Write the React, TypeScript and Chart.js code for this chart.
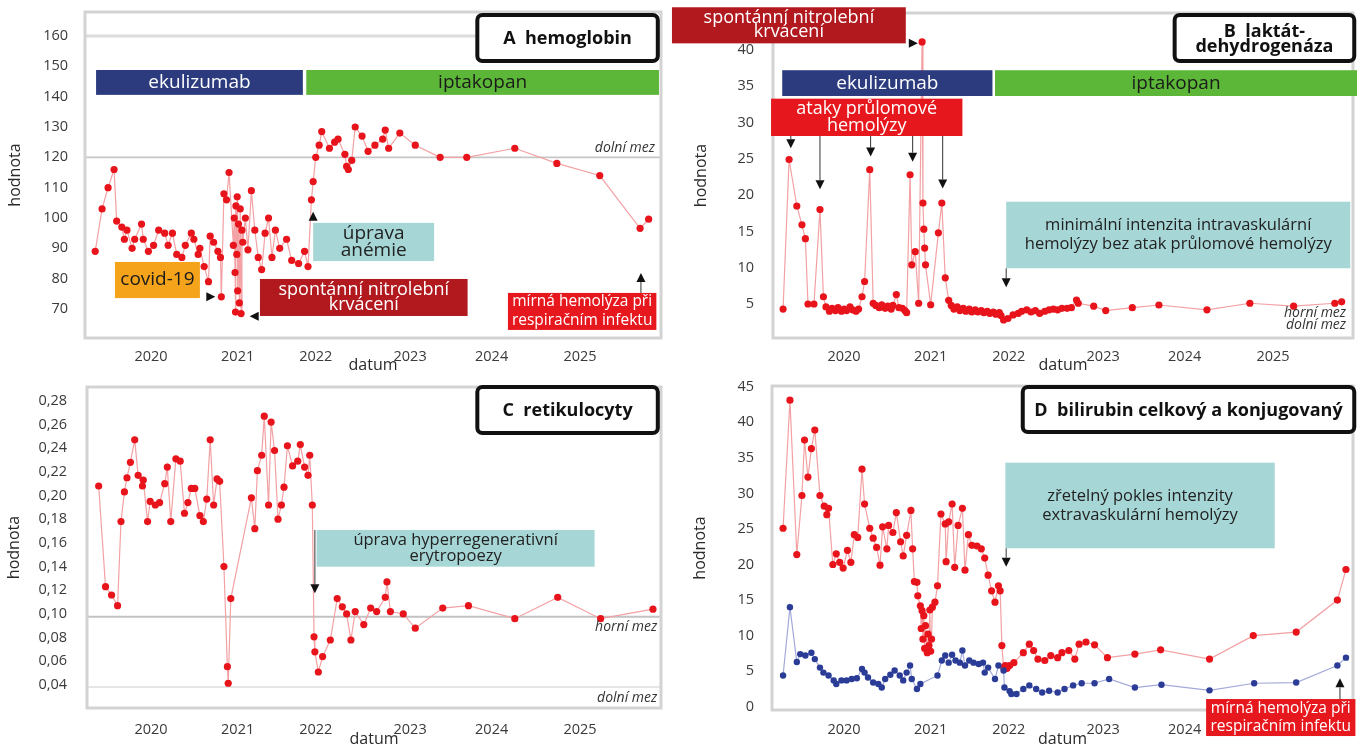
import { useEffect, useRef } from "react";
import { Chart, registerables } from "chart.js";

Chart.register(...registerables);

const FONT = "'Open Sans', 'DejaVu Sans', sans-serif";

// ---------- axis ticks ----------
const X_TICK_VALUES = [2020, 2021.01, 2021.92, 2023.02, 2023.97, 2025.0];
const X_TICK_LABELS = ["2020", "2021", "2022", "2023", "2024", "2025"];
const HB_TICKS = [70, 80, 90, 100, 110, 120, 130, 140, 150, 160];
const LDH_TICKS = [5, 10, 15, 20, 25, 30, 35, 40];
const RET_TICKS = [0.04, 0.06, 0.08, 0.1, 0.12, 0.14, 0.16, 0.18, 0.2, 0.22, 0.24, 0.26, 0.28];
const BIL_TICKS = [0, 5, 10, 15, 20, 25, 30, 35, 40, 45];

// ---------- series: [date (decimal year), value] ----------
const HEMOGLOBIN: [number, number][] = [
  [2019.35, 89], [2019.43, 103], [2019.5, 110], [2019.57, 116], [2019.6, 99], [2019.66, 97],
  [2019.69, 93], [2019.72, 96], [2019.78, 90], [2019.81, 93], [2019.89, 98], [2019.91, 93],
  [2019.97, 89], [2020.03, 91], [2020.09, 96], [2020.16, 95], [2020.2, 91], [2020.25, 95],
  [2020.3, 88], [2020.36, 87], [2020.4, 91], [2020.47, 95], [2020.5, 93], [2020.55, 88],
  [2020.57, 90], [2020.62, 84], [2020.67, 79], [2020.69, 94], [2020.73, 92], [2020.78, 89],
  [2020.81, 87], [2020.82, 74], [2020.85, 108], [2020.88, 106], [2020.91, 115], [2020.96, 91],
  [2020.97, 100], [2020.98, 82], [2020.985, 69], [2020.99, 104], [2021.0, 88], [2021.005, 107],
  [2021.01, 76], [2021.02, 98], [2021.03, 72], [2021.04, 103], [2021.05, 68.5], [2021.06, 96],
  [2021.07, 92], [2021.1, 100], [2021.13, 89.5], [2021.17, 109], [2021.21, 96], [2021.25, 87],
  [2021.29, 83], [2021.33, 95], [2021.37, 100], [2021.41, 87], [2021.45, 96], [2021.5, 90],
  [2021.58, 93], [2021.64, 86], [2021.72, 85], [2021.79, 89], [2021.83, 84], [2021.87, 106],
  [2021.89, 112], [2021.92, 120], [2021.96, 124], [2021.99, 128.5], [2022.08, 123], [2022.14, 125],
  [2022.18, 126], [2022.26, 121], [2022.28, 117], [2022.3, 116], [2022.34, 119], [2022.38, 130],
  [2022.46, 127], [2022.53, 122], [2022.61, 124], [2022.7, 126], [2022.73, 129], [2022.77, 123],
  [2022.9, 128], [2023.08, 124], [2023.37, 120], [2023.68, 120], [2024.24, 123], [2024.73, 118],
  [2025.23, 114], [2025.7, 96.6], [2025.8, 99.6],
];

const LDH: [number, number][] = [
  [2019.29, 4.3], [2019.36, 24.9], [2019.45, 18.5], [2019.51, 15.9], [2019.55, 14.0], [2019.58, 5.0],
  [2019.65, 5.0], [2019.72, 18.0], [2019.76, 6.0], [2019.79, 4.6], [2019.83, 4.0], [2019.86, 4.4],
  [2019.9, 4.1], [2019.93, 4.5], [2019.97, 4.0], [2020.0, 4.3], [2020.03, 4.1], [2020.07, 4.6],
  [2020.1, 4.2], [2020.14, 4.0], [2020.17, 4.3], [2020.21, 6.0], [2020.24, 8.1], [2020.3, 23.5],
  [2020.34, 5.1], [2020.37, 4.8], [2020.41, 4.5], [2020.44, 4.9], [2020.48, 4.4], [2020.51, 4.7],
  [2020.55, 4.3], [2020.57, 4.8], [2020.61, 6.3], [2020.64, 4.5], [2020.68, 4.4], [2020.71, 4.1],
  [2020.73, 3.8], [2020.77, 22.8], [2020.79, 10.4], [2020.83, 12.2], [2020.87, 5.1], [2020.91, 41.1],
  [2020.92, 18.9], [2020.93, 15.3], [2020.94, 12.7], [2020.95, 10.4], [2021.01, 4.9], [2021.1, 14.8],
  [2021.14, 18.9], [2021.18, 8.6], [2021.22, 5.5], [2021.25, 4.8], [2021.28, 4.3], [2021.32, 4.6],
  [2021.35, 4.1], [2021.39, 4.4], [2021.42, 4.0], [2021.46, 4.3], [2021.49, 3.9], [2021.53, 4.2],
  [2021.56, 3.9], [2021.6, 4.1], [2021.63, 3.8], [2021.67, 4.0], [2021.7, 3.7], [2021.74, 3.9],
  [2021.77, 3.6], [2021.81, 3.8], [2021.83, 3.4], [2021.86, 2.8], [2021.91, 3.0], [2021.97, 3.5],
  [2022.03, 3.7], [2022.07, 4.0], [2022.13, 4.2], [2022.18, 3.9], [2022.23, 4.1], [2022.28, 3.7],
  [2022.34, 4.0], [2022.39, 4.2], [2022.44, 4.3], [2022.49, 4.2], [2022.54, 4.4], [2022.6, 4.4],
  [2022.65, 4.5], [2022.71, 5.55], [2022.73, 5.1], [2022.91, 4.7], [2023.05, 4.1], [2023.36, 4.5],
  [2023.67, 4.86], [2024.23, 4.2], [2024.73, 5.1], [2025.24, 4.7], [2025.72, 5.1], [2025.8, 5.3],
];

const RETICULOCYTES: [number, number][] = [
  [2019.39, 0.208], [2019.47, 0.123], [2019.54, 0.116], [2019.61, 0.107], [2019.65, 0.178],
  [2019.69, 0.203], [2019.72, 0.215], [2019.76, 0.228], [2019.81, 0.247], [2019.85, 0.217],
  [2019.9, 0.208], [2019.91, 0.213], [2019.96, 0.178], [2019.99, 0.195], [2020.05, 0.192],
  [2020.1, 0.194], [2020.16, 0.21], [2020.19, 0.224], [2020.23, 0.178], [2020.29, 0.231],
  [2020.34, 0.229], [2020.39, 0.185], [2020.43, 0.194], [2020.47, 0.206], [2020.51, 0.206],
  [2020.57, 0.183], [2020.61, 0.178], [2020.65, 0.197], [2020.69, 0.247], [2020.73, 0.192],
  [2020.77, 0.214], [2020.8, 0.212], [2020.85, 0.14], [2020.89, 0.0555], [2020.9, 0.0415],
  [2020.93, 0.113], [2021.17, 0.198], [2021.21, 0.172], [2021.24, 0.221], [2021.29, 0.234],
  [2021.32, 0.267], [2021.37, 0.192], [2021.4, 0.262], [2021.44, 0.238], [2021.48, 0.18],
  [2021.52, 0.192], [2021.55, 0.207], [2021.59, 0.242], [2021.65, 0.225], [2021.71, 0.229],
  [2021.74, 0.243], [2021.79, 0.224], [2021.83, 0.217], [2021.85, 0.234], [2021.88, 0.192],
  [2021.9, 0.0807], [2021.91, 0.068], [2021.95, 0.051], [2022.0, 0.064], [2022.09, 0.078],
  [2022.17, 0.113], [2022.23, 0.106], [2022.28, 0.1], [2022.33, 0.078], [2022.38, 0.102],
  [2022.48, 0.091], [2022.56, 0.105], [2022.63, 0.102], [2022.73, 0.114], [2022.75, 0.127],
  [2022.79, 0.102], [2022.94, 0.1], [2023.08, 0.088], [2023.4, 0.105], [2023.7, 0.107],
  [2024.24, 0.096], [2024.74, 0.114], [2025.24, 0.096], [2025.85, 0.104],
];

const BILIRUBIN_TOTAL: [number, number][] = [
  [2019.29, 25.1], [2019.37, 43.1], [2019.45, 21.4], [2019.51, 29.7], [2019.54, 37.5], [2019.58, 32.3],
  [2019.62, 36.3], [2019.66, 38.9], [2019.72, 29.7], [2019.77, 28.2], [2019.8, 27.0], [2019.82, 27.9],
  [2019.87, 20.0], [2019.91, 21.5], [2019.95, 20.3], [2019.99, 19.5], [2020.04, 22.0], [2020.08, 20.3],
  [2020.12, 24.2], [2020.16, 23.8], [2020.21, 33.4], [2020.24, 28.5], [2020.3, 25.1], [2020.34, 23.7],
  [2020.38, 22.4], [2020.42, 19.9], [2020.45, 25.3], [2020.5, 22.2], [2020.52, 25.5], [2020.57, 24.5],
  [2020.61, 27.3], [2020.66, 23.2], [2020.69, 21.2], [2020.73, 24.1], [2020.78, 27.6], [2020.8, 22.2],
  [2020.82, 17.6], [2020.85, 17.5], [2020.86, 15.6], [2020.89, 14.2], [2020.9, 11.0], [2020.91, 13.5],
  [2020.92, 9.5], [2020.93, 12.8], [2020.94, 8.2], [2020.95, 11.4], [2020.97, 7.6], [2020.98, 10.2],
  [2020.99, 8.6], [2021.0, 13.6], [2021.01, 7.8], [2021.02, 9.5], [2021.03, 14.0], [2021.06, 14.7],
  [2021.09, 17.0], [2021.13, 27.1], [2021.18, 25.7], [2021.19, 20.4], [2021.22, 26.0], [2021.26, 28.5],
  [2021.29, 19.6], [2021.33, 25.5], [2021.38, 27.9], [2021.41, 19.2], [2021.45, 24.2], [2021.49, 22.7],
  [2021.55, 22.6], [2021.6, 22.2], [2021.64, 20.9], [2021.68, 18.5], [2021.72, 16.3], [2021.76, 14.7],
  [2021.8, 17.0], [2021.82, 16.3], [2021.84, 8.6], [2021.86, 5.5], [2021.88, 5.8], [2021.9, 5.4],
  [2021.93, 5.8], [2021.98, 6.2], [2022.09, 7.6], [2022.16, 8.8], [2022.21, 7.9], [2022.26, 6.7],
  [2022.34, 6.5], [2022.41, 7.2], [2022.49, 6.9], [2022.54, 7.6], [2022.62, 7.9], [2022.69, 6.7],
  [2022.74, 8.8], [2022.82, 9.1], [2022.92, 8.7], [2023.07, 6.9], [2023.39, 7.4], [2023.69, 8.0],
  [2024.26, 6.7], [2024.77, 10.0], [2025.27, 10.5], [2025.75, 15.0], [2025.85, 19.3],
];

const BILIRUBIN_CONJUGATED: [number, number][] = [
  [2019.29, 4.4], [2019.37, 14.0], [2019.45, 6.3], [2019.49, 7.4], [2019.55, 7.2], [2019.62, 7.6],
  [2019.66, 6.7], [2019.72, 5.5], [2019.76, 4.8], [2019.82, 4.4], [2019.88, 3.7], [2019.91, 3.2],
  [2019.97, 3.7], [2020.03, 3.7], [2020.09, 3.9], [2020.15, 4.0], [2020.21, 5.3], [2020.24, 4.8],
  [2020.28, 4.1], [2020.34, 3.4], [2020.4, 3.2], [2020.44, 2.7], [2020.48, 3.9], [2020.54, 4.5],
  [2020.59, 5.1], [2020.65, 4.4], [2020.69, 3.7], [2020.73, 4.8], [2020.77, 5.8], [2020.79, 3.9],
  [2020.85, 2.5], [2020.89, 3.2], [2021.09, 4.4], [2021.14, 6.5], [2021.18, 7.2], [2021.22, 6.2],
  [2021.26, 7.3], [2021.3, 6.5], [2021.35, 6.2], [2021.38, 7.9], [2021.41, 5.8], [2021.46, 6.5],
  [2021.51, 6.2], [2021.57, 6.0], [2021.62, 6.2], [2021.64, 4.8], [2021.68, 5.5], [2021.76, 3.9],
  [2021.8, 5.8], [2021.86, 5.1], [2021.87, 2.7], [2021.93, 2.2], [2021.95, 1.8], [2022.01, 1.8],
  [2022.09, 2.5], [2022.16, 3.0], [2022.24, 2.5], [2022.31, 2.0], [2022.39, 2.25], [2022.49, 2.0],
  [2022.57, 2.5], [2022.67, 3.0], [2022.77, 3.3], [2022.92, 3.3], [2023.09, 3.9], [2023.39, 2.7],
  [2023.7, 3.1], [2024.26, 2.3], [2024.78, 3.3], [2025.27, 3.4], [2025.75, 5.8], [2025.85, 6.9],
];

// ---------- colours ----------
const RED = "#e8141c";
const RED_LINE = "#f3a1a4";
const BLUE = "#2b3c97";
const BLUE_LINE = "#a3aad9";
const NAVY = "#2b3b7e";
const GREEN = "#5cb637";
const TEAL = "#a6d7d6";
const ORANGE = "#f5a31a";
const DARK_RED = "#b1191f";
const BRIGHT_RED = "#e6171d";

type Box = { x0: number; x1: number; y0: number; y1: number; fill: string; color: string; lines: string[]; size: number; gap: number };
type Arrow = { x: number; y: number; dir: "up" | "down" | "left" | "right"; tail?: number };
type Note = { x: number; y: number; text: string };
type HLine = { y: number; color: string; width: number };
type Series = { data: [number, number][]; point: string; line: string; radius: number };
type Title = { x0: number; x1: number; y0: number; y1: number; lines: string[]; gap: number };

type Panel = {
  left: number; top: number; width: number; height: number;
  pad: { left: number; top: number; right: number; bottom: number };
  yAxisWidth: number; xAxisHeight: number;
  xMin: number; xMax: number; yMin: number; yMax: number;
  yTicks: number[]; yFmt: (v: number) => string;
  yTickPad: number; xTickPad: number; xTitlePad: number;
  series: Series[]; hlines: HLine[]; boxes: Box[]; arrows: Arrow[]; notes: Note[]; title: Title;
};

const comma = (v: number) => v.toFixed(2).replace(".", ",");
const plain = (v: number) => String(v);

const panels: Panel[] = [
  {
    left: 0, top: 0, width: 680, height: 378,
    pad: { left: 4, top: 12, right: 19, bottom: 0 },
    yAxisWidth: 81, xAxisHeight: 40,
    xMin: 2019.231, xMax: 2025.944, yMin: 60.44, yMax: 167.92,
    yTicks: HB_TICKS, yFmt: plain, yTickPad: 9, xTickPad: 2, xTitlePad: 2.7,
    series: [{ data: HEMOGLOBIN, point: RED, line: RED_LINE, radius: 3.6 }],
    hlines: [
      { y: 160, color: "#dcdcdc", width: 3 },
      { y: 120, color: "#c6c6c6", width: 1.6 },
    ],
    boxes: [
      { x0: 2019.36, x1: 2021.77, y0: 140.6, y1: 148.8, fill: NAVY, color: "#ffffff", lines: ["ekulizumab"], size: 19, gap: 0 },
      { x0: 2021.81, x1: 2025.92, y0: 140.6, y1: 148.8, fill: GREEN, color: "#1b1b1b", lines: ["iptakopan"], size: 19, gap: 0 },
      { x0: 2019.58, x1: 2020.57, y0: 73.6, y1: 85.5, fill: ORANGE, color: "#1b1b1b", lines: ["covid-19"], size: 19, gap: 0 },
      { x0: 2021.89, x1: 2023.3, y0: 85.8, y1: 98.4, fill: TEAL, color: "#222222", lines: ["úprava", "anémie"], size: 19, gap: 17 },
      { x0: 2021.27, x1: 2023.69, y0: 67.7, y1: 79.9, fill: DARK_RED, color: "#ffffff", lines: ["spontánní nitrolební", "krvácení"], size: 18, gap: 15 },
      { x0: 2024.16, x1: 2025.89, y0: 63.1, y1: 75.3, fill: BRIGHT_RED, color: "#ffffff", lines: ["mírná hemolýza při", "respiračním infektu"], size: 15.5, gap: 19 },
    ],
    arrows: [
      { x: 2020.75, y: 74.0, dir: "right" },
      { x: 2021.15, y: 67.6, dir: "left" },
      { x: 2021.89, y: 102.1, dir: "up" },
      { x: 2025.71, y: 81.9, dir: "up", tail: 75.3 },
    ],
    notes: [{ x: 2025.874, y: 123.1, text: "dolní mez" }],
    title: { x0: 2023.78, x1: 2025.93, y0: 151.1, y1: 167.6, lines: ["A  hemoglobin"], gap: 0 },
  },
  {
    left: 660, top: 0, width: 697, height: 378,
    pad: { left: 30, top: 13, right: 4, bottom: 0 },
    yAxisWidth: 83, xAxisHeight: 40,
    xMin: 2019.1725, xMax: 2025.932, yMin: 0.317, yMax: 45.08,
    yTicks: LDH_TICKS, yFmt: plain, yTickPad: 11, xTickPad: 2, xTitlePad: 2.7,
    series: [{ data: LDH, point: RED, line: RED_LINE, radius: 3.6 }],
    hlines: [],
    boxes: [
      { x0: 2017.995, x1: 2020.72, y0: 40.9, y1: 45.87, fill: DARK_RED, color: "#ffffff", lines: ["spontánní nitrolební", "krvácení"], size: 18, gap: 14 },
      { x0: 2019.28, x1: 2021.73, y0: 33.65, y1: 37.2, fill: NAVY, color: "#ffffff", lines: ["ekulizumab"], size: 19, gap: 0 },
      { x0: 2021.76, x1: 2025.98, y0: 33.65, y1: 37.2, fill: GREEN, color: "#1b1b1b", lines: ["iptakopan"], size: 19, gap: 0 },
      { x0: 2019.15, x1: 2021.38, y0: 28.14, y1: 33.28, fill: BRIGHT_RED, color: "#ffffff", lines: ["ataky průlomové", "hemolýzy"], size: 18, gap: 17 },
      { x0: 2021.89, x1: 2025.9, y0: 9.92, y1: 19.09, fill: TEAL, color: "#222222", lines: ["minimální intenzita intravaskulární", "hemolýzy bez atak průlomové hemolýzy"], size: 16.5, gap: 19 },
    ],
    arrows: [
      { x: 2020.86, y: 40.9, dir: "right" },
      { x: 2019.38, y: 26.45, dir: "down", tail: 28.14 },
      { x: 2019.72, y: 20.8, dir: "down", tail: 28.14 },
      { x: 2020.31, y: 25.3, dir: "down", tail: 28.14 },
      { x: 2020.8, y: 24.6, dir: "down", tail: 28.14 },
      { x: 2021.15, y: 20.9, dir: "down", tail: 28.14 },
      { x: 2021.89, y: 7.3, dir: "down", tail: 9.92 },
    ],
    notes: [
      { x: 2025.851, y: 3.76, text: "horní mez" },
      { x: 2025.851, y: 2.11, text: "dolní mez" },
    ],
    title: { x0: 2023.83, x1: 2025.97, y0: 38.2, y1: 45.08, lines: ["B  laktát-", "dehydrogenáza"], gap: 15 },
  },
  {
    left: 0, top: 378, width: 680, height: 378,
    pad: { left: 3, top: 9, right: 19, bottom: 0 },
    yAxisWidth: 84, xAxisHeight: 48,
    xMin: 2019.254, xMax: 2025.944, yMin: 0.0206, yMax: 0.2916,
    yTicks: RET_TICKS, yFmt: comma, yTickPad: 12, xTickPad: 5, xTitlePad: 7.4,
    series: [{ data: RETICULOCYTES, point: RED, line: RED_LINE, radius: 3.6 }],
    hlines: [
      { y: 0.0977, color: "#c2c2c2", width: 2 },
      { y: 0.0383, color: "#e6e6e6", width: 2 },
    ],
    boxes: [
      { x0: 2021.93, x1: 2025.17, y0: 0.1399, y1: 0.1709, fill: TEAL, color: "#222222", lines: ["úprava hyperregenerativní", "erytropoezy"], size: 16.5, gap: 16.6 },
    ],
    arrows: [{ x: 2021.91, y: 0.1174, dir: "down", tail: 0.1709 }],
    notes: [
      { x: 2025.9, y: 0.0892, text: "horní mez" },
      { x: 2025.9, y: 0.0288, text: "dolní mez" },
    ],
    title: { x0: 2023.78, x1: 2025.93, y0: 0.2511, y1: 0.2933, lines: ["C  retikulocyty"], gap: 0 },
  },
  {
    left: 660, top: 378, width: 697, height: 378,
    pad: { left: 29, top: 8, right: 4, bottom: 0 },
    yAxisWidth: 83, xAxisHeight: 46,
    xMin: 2019.161, xMax: 2025.932, yMin: -0.46, yMax: 45.1,
    yTicks: BIL_TICKS, yFmt: plain, yTickPad: 10, xTickPad: 3, xTitlePad: 7.1,
    series: [
      { data: BILIRUBIN_CONJUGATED, point: BLUE, line: BLUE_LINE, radius: 3.2 },
      { data: BILIRUBIN_TOTAL, point: RED, line: RED_LINE, radius: 3.6 },
    ],
    hlines: [],
    boxes: [
      { x0: 2021.88, x1: 2025.02, y0: 22.28, y1: 34.32, fill: TEAL, color: "#222222", lines: ["zřetelný pokles intenzity", "extravaskulární hemolýzy"], size: 16.5, gap: 19 },
      { x0: 2024.22, x1: 2025.96, y0: -4.12, y1: 1.08, fill: BRIGHT_RED, color: "#ffffff", lines: ["mírná hemolýza při", "respiračním infektu"], size: 15.5, gap: 18.5 },
    ],
    arrows: [
      { x: 2021.89, y: 19.69, dir: "down", tail: 22.28 },
      { x: 2025.78, y: 3.99, dir: "up", tail: 1.08 },
    ],
    notes: [],
    title: { x0: 2022.06, x1: 2025.97, y0: 38.36, y1: 45.25, lines: ["D  bilirubin celkový a konjugovaný"], gap: 0 },
  },
];

function drawLines(ctx: CanvasRenderingContext2D, lines: string[], cx: number, cy: number, gap: number, font: string, color: string) {
  ctx.font = font;
  ctx.fillStyle = color;
  ctx.textAlign = "center";
  ctx.textBaseline = "middle";
  const start = cy - ((lines.length - 1) * gap) / 2;
  lines.forEach((t, i) => ctx.fillText(t, cx, start + i * gap));
}

function makeDecor(p: Panel) {
  return {
    id: "decor",
    beforeDatasetsDraw(chart: any) {
      const { ctx, chartArea: a } = chart;
      const ys = chart.scales.y;
      ctx.save();
      for (const h of p.hlines) {
        const y = ys.getPixelForValue(h.y);
        ctx.strokeStyle = h.color;
        ctx.lineWidth = h.width;
        ctx.beginPath();
        ctx.moveTo(a.left, y);
        ctx.lineTo(a.right, y);
        ctx.stroke();
      }
      ctx.strokeStyle = "#d3d3d3";
      ctx.lineWidth = 3;
      ctx.strokeRect(a.left, a.top, a.right - a.left, a.bottom - a.top);
      ctx.restore();
    },
    afterDatasetsDraw(chart: any) {
      const ctx: CanvasRenderingContext2D = chart.ctx;
      const X = (v: number) => chart.scales.x.getPixelForValue(v);
      const Y = (v: number) => chart.scales.y.getPixelForValue(v);
      ctx.save();
      for (const b of p.boxes) {
        const x0 = X(b.x0), x1 = X(b.x1), y0 = Y(b.y1), y1 = Y(b.y0);
        ctx.fillStyle = b.fill;
        ctx.fillRect(x0, y0, x1 - x0, y1 - y0);
        drawLines(ctx, b.lines, (x0 + x1) / 2, (y0 + y1) / 2, b.gap, `400 ${b.size}px ${FONT}`, b.color);
      }
      for (const ar of p.arrows) {
        const x = X(ar.x), y = Y(ar.y);
        const s = 9, h = 4.5;
        ctx.fillStyle = "#111111";
        ctx.strokeStyle = "#333333";
        ctx.lineWidth = 1;
        ctx.beginPath();
        if (ar.dir === "down") {
          if (ar.tail !== undefined) { ctx.moveTo(x, Y(ar.tail)); ctx.lineTo(x, y - s); ctx.stroke(); }
          ctx.beginPath(); ctx.moveTo(x, y); ctx.lineTo(x - h, y - s); ctx.lineTo(x + h, y - s);
        } else if (ar.dir === "up") {
          if (ar.tail !== undefined) { ctx.moveTo(x, Y(ar.tail)); ctx.lineTo(x, y + s); ctx.stroke(); }
          ctx.beginPath(); ctx.moveTo(x, y); ctx.lineTo(x - h, y + s); ctx.lineTo(x + h, y + s);
        } else if (ar.dir === "right") {
          ctx.moveTo(x, y); ctx.lineTo(x - s, y - h); ctx.lineTo(x - s, y + h);
        } else {
          ctx.moveTo(x, y); ctx.lineTo(x + s, y - h); ctx.lineTo(x + s, y + h);
        }
        ctx.closePath();
        ctx.fill();
      }
      ctx.font = `italic 400 14px ${FONT}`;
      ctx.fillStyle = "#333333";
      ctx.textAlign = "right";
      ctx.textBaseline = "middle";
      for (const n of p.notes) ctx.fillText(n.text, X(n.x), Y(n.y));
      const t = p.title;
      const tx0 = X(t.x0), tx1 = X(t.x1), ty0 = Y(t.y1), ty1 = Y(t.y0);
      ctx.beginPath();
      ctx.roundRect(tx0 + 2, ty0 + 2, tx1 - tx0 - 4, ty1 - ty0 - 4, 5);
      ctx.fillStyle = "#ffffff";
      ctx.fill();
      ctx.lineWidth = 4;
      ctx.strokeStyle = "#111111";
      ctx.stroke();
      drawLines(ctx, t.lines, (tx0 + tx1) / 2, (ty0 + ty1) / 2 + 1, t.gap, `700 18px ${FONT}`, "#111111");
      ctx.restore();
    },
  };
}

function PanelChart({ p }: { p: Panel }) {
  const ref = useRef<HTMLCanvasElement>(null);
  useEffect(() => {
    const canvas = ref.current;
    if (!canvas) return;
    const tickFont = { family: FONT, size: 14.5 };
    const chart = new Chart(canvas, {
      type: "scatter",
      data: {
        datasets: p.series.map((s) => ({
          data: s.data.map(([x, y]) => ({ x, y })),
          showLine: true,
          borderColor: s.line,
          borderWidth: 1.2,
          pointRadius: s.radius,
          pointHoverRadius: s.radius,
          pointBackgroundColor: s.point,
          pointBorderWidth: 0,
        })),
      },
      options: {
        animation: false,
        responsive: false,
        maintainAspectRatio: false,
        events: [],
        layout: { padding: p.pad },
        plugins: { legend: { display: false }, tooltip: { enabled: false } },
        scales: {
          x: {
            type: "linear",
            min: p.xMin,
            max: p.xMax,
            grid: { display: false },
            border: { display: false },
            afterBuildTicks: (s: any) => { s.ticks = X_TICK_VALUES.map((v) => ({ value: v })); },
            afterFit: (s: any) => {
              s.height = p.xAxisHeight;
              s.paddingLeft = 0; s.paddingRight = 0; s.paddingTop = 0; s.paddingBottom = 0;
            },
            ticks: {
              autoSkip: false,
              maxRotation: 0,
              padding: p.xTickPad,
              color: "#3a3a3a",
              font: tickFont,
              callback: (_v: any, i: number) => X_TICK_LABELS[i],
            },
            title: { display: true, text: "datum", color: "#2a2a2a", font: { family: FONT, size: 16 }, padding: { top: 0, bottom: p.xTitlePad } },
          },
          y: {
            type: "linear",
            min: p.yMin,
            max: p.yMax,
            grid: { display: false },
            border: { display: false },
            afterBuildTicks: (s: any) => { s.ticks = p.yTicks.map((v) => ({ value: v })); },
            afterFit: (s: any) => {
              s.width = p.yAxisWidth;
              s.paddingLeft = 0; s.paddingRight = 0; s.paddingTop = 0; s.paddingBottom = 0;
            },
            ticks: {
              autoSkip: false,
              padding: p.yTickPad,
              color: "#3a3a3a",
              font: tickFont,
              callback: (v: any) => p.yFmt(Number(v)),
            },
            title: { display: true, text: "hodnota", color: "#2a2a2a", font: { family: FONT, size: 16 }, padding: { top: 2, bottom: 0 } },
          },
        },
      },
      plugins: [makeDecor(p)],
    } as any);
    return () => chart.destroy();
  }, [p]);
  return (
    <canvas
      ref={ref}
      width={p.width}
      height={p.height}
      style={{ position: "absolute", left: p.left, top: p.top, width: p.width, height: p.height }}
    />
  );
}

export default function App() {
  return (
    <div style={{ position: "fixed", left: 0, top: 0, width: 1357, height: 756, background: "#ffffff", overflow: "hidden" }}>
      {panels.map((p, i) => (
        <PanelChart key={i} p={p} />
      ))}
    </div>
  );
}
